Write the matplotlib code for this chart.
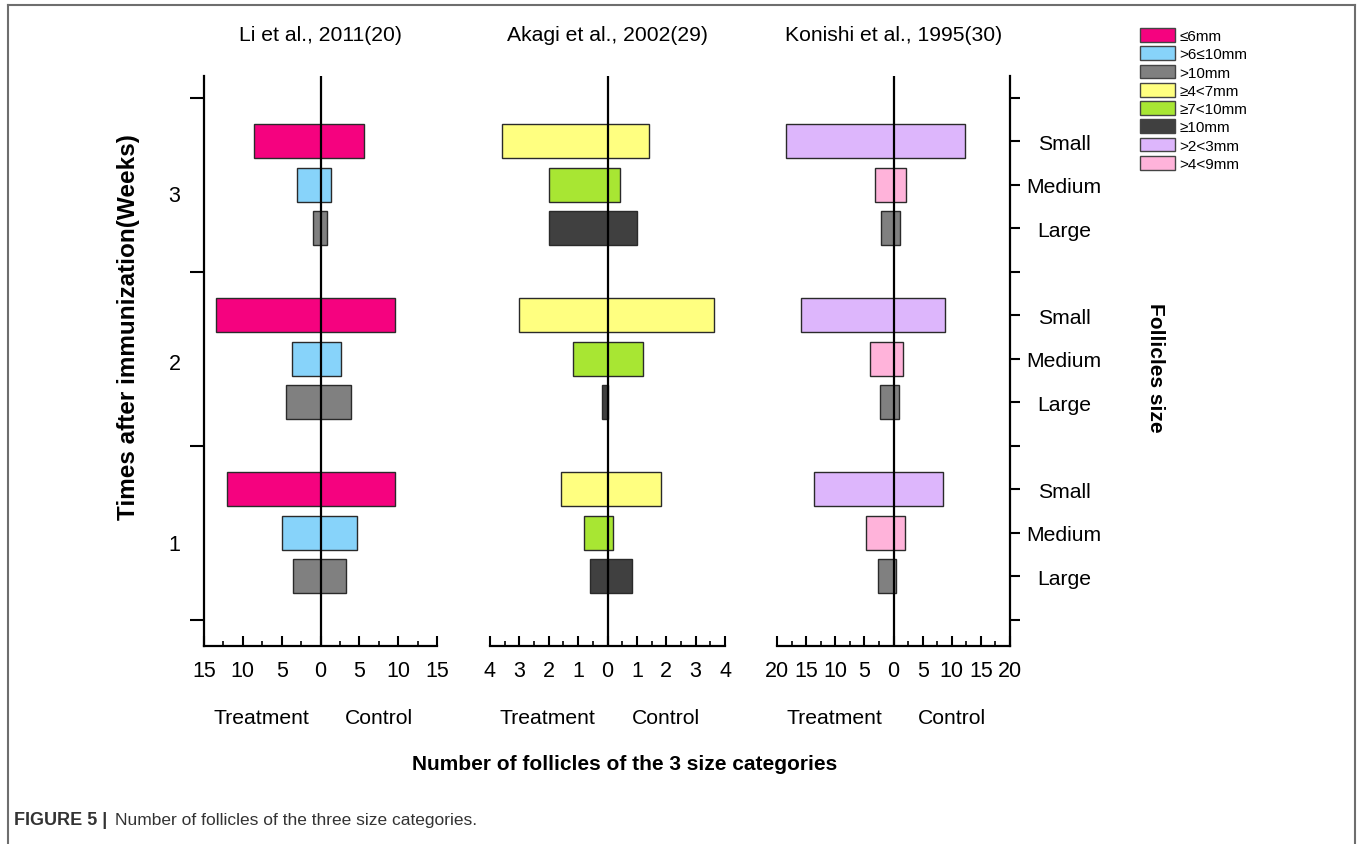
import matplotlib
matplotlib.use('Agg')
import matplotlib.pyplot as plt
import numpy as np
from matplotlib.patches import Patch
from matplotlib.lines import Line2D

plt.rcParams['font.family'] = ['Liberation Sans', 'DejaVu Sans']

# data: treatment / control counts, rows = week 1..3, cols = small, medium, large
weeks = ['1', '2', '3']
sizes = ['Small', 'Medium', 'Large']
studies = ['Li et al., 2011(20)', 'Akagi et al., 2002(29)', 'Konishi et al., 1995(30)']

li_treat = [[12.1, 5.0, 3.5], [13.4, 3.7, 4.5], [8.6, 3.0, 1.0]]
li_ctrl = [[9.6, 4.7, 3.3], [9.6, 2.6, 3.9], [5.6, 1.4, 0.9]]
akagi_treat = [[1.59, 0.8, 0.6], [3.0, 1.19, 0.18], [3.6, 1.99, 2.0]]
akagi_ctrl = [[1.82, 0.2, 0.82], [3.62, 1.21, 0.0], [1.41, 0.41, 1.0]]
konishi_treat = [[13.6, 4.8, 2.7], [15.9, 4.0, 2.3], [18.5, 3.25, 2.1]]
konishi_ctrl = [[8.5, 1.9, 0.4], [8.8, 1.7, 0.9], [12.3, 2.2, 1.1]]

legend_labels = ['≤6mm', '>6≤10mm', '>10mm', '≥4<7mm', '≥7<10mm', '≥10mm', '>2<3mm', '>4<9mm']
legend_colors = ['#F5027F', '#87D3FA', '#808080', '#FFFF80', '#A8E633', '#404040', '#DDB6FC', '#FFB3DA']

panel_treat = [li_treat, akagi_treat, konishi_treat]
panel_ctrl = [li_ctrl, akagi_ctrl, konishi_ctrl]
panel_colors = [legend_colors[0:3], legend_colors[3:6], legend_colors[6:8] + [legend_colors[2]]]
panel_lim = [15, 4, 20]
panel_major = [5, 1, 5]

fig = plt.figure(figsize=(13.6, 8.45), dpi=100)

# axes placement in pixels (left, right) on a 1360 x 845 canvas
panel_px = [(204, 437), (490, 725), (777, 1010)]
top_px, bottom_px = 77, 647
W, H = 1360.0, 845.0

# y layout: separators at 0,4,8,12 ; large/medium/small at +1,+2,+3 inside each week
size_offset = {'Small': 3, 'Medium': 2, 'Large': 1}

axes = []
for i in range(3):
    x0, x1 = panel_px[i]
    ax = fig.add_axes([x0 / W, 1 - bottom_px / H, (x1 - x0) / W, (bottom_px - top_px) / H])
    axes.append(ax)

    for w in range(3):
        for c, s in enumerate(sizes):
            y = 4 * w + size_offset[s]
            t = panel_treat[i][w][c]
            k = panel_ctrl[i][w][c]
            ax.barh(y, t + k, left=-t, height=0.78, color=panel_colors[i][c],
                    edgecolor='#2a2a2a', linewidth=1.0, zorder=2)

    ax.axvline(0, color='black', linewidth=1.6, zorder=3)

    lim = panel_lim[i]
    ax.set_xlim(-lim, lim)
    ax.set_ylim(-0.6, 12.5)
    major = np.arange(-lim, lim + 0.01, panel_major[i])
    ax.set_xticks(major)
    ax.set_xticks(np.arange(-lim, lim + 0.01, panel_major[i] / 2.0), minor=True)
    ax.set_xticklabels([f'{abs(v):g}' for v in major])
    ax.tick_params(axis='x', which='major', direction='in', length=7, width=1.5, pad=10, labelsize=15.5)
    ax.tick_params(axis='x', which='minor', direction='in', length=3.5, width=1.2)

    for side in ['top', 'left', 'right']:
        ax.spines[side].set_visible(False)
    ax.spines['bottom'].set_linewidth(1.6)

    ax.set_yticks([])
    ax.text(0.5, 1.072, studies[i], transform=ax.transAxes, ha='center', va='center', fontsize=15.2)
    ax.text(0.245, -0.125, 'Treatment', transform=ax.transAxes, ha='center', va='center', fontsize=15.2)
    ax.text(0.75, -0.125, 'Control', transform=ax.transAxes, ha='center', va='center', fontsize=15.2)
    ax.patch.set_alpha(0)

# left panel: week axis
ax = axes[0]
ax.spines['left'].set_visible(True)
ax.spines['left'].set_linewidth(1.6)
ax.set_yticks([0, 4, 8, 12])
ax.set_yticklabels([])
ax.set_yticks([1.8, 5.95, 9.8], minor=True)
ax.set_yticklabels(weeks, minor=True)
ax.tick_params(axis='y', which='major', direction='out', length=10, width=1.5)
ax.tick_params(axis='y', which='minor', length=0, pad=17, labelsize=15.5)

# right panel: follicle size axis
ax = axes[2]
ax.spines['right'].set_visible(True)
ax.spines['right'].set_linewidth(1.6)
ax.yaxis.tick_right()
ax.set_yticks([0, 4, 8, 12])
ax.set_yticklabels([])
cat_pos = [4 * w + size_offset[s] for w in range(3) for s in sizes]
ax.set_yticks(cat_pos, minor=True)
ax.set_yticklabels(sizes * 3, minor=True)
ax.tick_params(axis='y', which='both', direction='out', length=7, width=1.5,
               left=False, right=True, labelleft=False, labelright=True)
ax.tick_params(axis='y', which='minor', pad=32, labelsize=15.2)
for lab in ax.get_yticklabels(minor=True):
    lab.set_horizontalalignment('center')

# axis titles
fig.text(128 / W, 1 - 327 / H, 'Times after immunization(Weeks)', rotation=90,
         ha='center', va='center', fontsize=17.5, fontweight='bold')
fig.text(1155 / W, 1 - 368 / H, 'Follicles size', rotation=-90,
         ha='center', va='center', fontsize=15, fontweight='bold')
fig.text(625 / W, 1 - 765 / H, 'Number of follicles of the 3 size categories',
         ha='center', va='center', fontsize=15, fontweight='bold')

# legend
handles = [Patch(facecolor=c, edgecolor='#444444', linewidth=1.0) for c in legend_colors]
fig.legend(handles, legend_labels, loc='upper left', bbox_to_anchor=(1140 / W, 1 - 29 / H),
           frameon=False, fontsize=11, handlelength=2.3, handleheight=1.0,
           labelspacing=0.21, handletextpad=0.3, borderaxespad=0, borderpad=0)

# caption and frame
fig.text(14 / W, 1 - 821 / H, 'FIGURE 5 |', ha='left', va='center', fontsize=13,
         fontweight='bold', color='#333333')
fig.text(115 / W, 1 - 821 / H, 'Number of follicles of the three size categories.',
         ha='left', va='center', fontsize=12.5, color='#333333')
frame_kw = dict(color='#6e6e6e', linewidth=1.5, transform=fig.transFigure)
fig.add_artist(Line2D([8 / W, 8 / W], [0, 1 - 6 / H], **frame_kw))
fig.add_artist(Line2D([8 / W, 1355 / W], [1 - 6 / H, 1 - 6 / H], **frame_kw))
fig.add_artist(Line2D([1355 / W, 1355 / W], [0, 1 - 6 / H], **frame_kw))

fig.savefig('out.png', dpi=100, facecolor='white')
